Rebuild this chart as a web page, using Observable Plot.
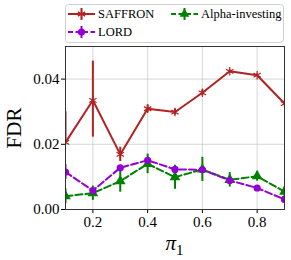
<!DOCTYPE html>
<html><head><meta charset="utf-8">
<script src="https://cdn.jsdelivr.net/npm/d3@7"></script>
<script src="https://cdn.jsdelivr.net/npm/@observablehq/plot@0.6"></script>
<style>body{margin:0;background:#fff}#c{position:relative;width:291px;height:260px}</style>
</head><body><div id="c"></div>
<script>
const pi1 = [0.1,0.2,0.3,0.4,0.5,0.6,0.7,0.8,0.9];
const saffron = [0.0206,0.0335,0.0169,0.0309,0.0299,0.0358,0.0424,0.0412,0.0325];
const saffronErrLo = [0.0,0.0113,0.0022,0.0012,0.0009,0.0009,0.0004,0.0004,0.0007];
const saffronErrHi = [0.0094,0.012,0.0022,0.0012,0.0009,0.0009,0.0004,0.0004,0.0007];
const lord = [0.0115,0.0058,0.0128,0.0151,0.0123,0.0122,0.0089,0.0066,0.0031];
const lordErr = [0.0023,0.0006,0.0006,0.0006,0.0005,0.0005,0.0005,0.0004,0.0004];
const alpha = [0.0041,0.0050,0.0087,0.0140,0.0099,0.0123,0.0091,0.0102,0.0055];
const alphaErr = [0.0023,0.0022,0.0034,0.0030,0.0037,0.0037,0.0022,0.0015,0.0015];
const series = ["SAFFRON","LORD","Alpha-investing"];
const colors = ["#b22222","#9400d3","#008000"];
const xTicks = [0.2,0.4,0.6,0.8];
const yTicks = [0,0.02,0.04];

const mk = (vals, lo, hi, name) => pi1.map((x,i)=>({x, y:vals[i], lo:vals[i]-lo[i], hi:vals[i]+hi[i], s:name}));
const dS = mk(saffron,saffronErrLo,saffronErrHi,"SAFFRON");
const dL = mk(lord,lordErr,lordErr,"LORD");
const dA = mk(alpha,alphaErr,alphaErr,"Alpha-investing");
const font = "'Liberation Serif', 'DejaVu Serif', serif";

const plot = Plot.plot({
  width:291, height:260,
  marginLeft:65, marginRight:7, marginTop:46, marginBottom:51,
  style:{fontFamily:font, fontSize:"15px", color:"#000", background:"#fff"},
  x:{domain:[0.1,0.9], label:null},
  y:{domain:[0,0.05], label:null},
  marks:[
    Plot.gridX(xTicks,{stroke:"#b0b0b0", strokeOpacity:0.5, strokeWidth:1}),
    Plot.gridY(yTicks,{stroke:"#b0b0b0", strokeOpacity:0.5, strokeWidth:1}),
    Plot.axisX({ticks:xTicks, tickFormat:d3.format(".1f"), tickSize:4, fontSize:15, tickPadding:3, label:null}),
    Plot.axisY({ticks:yTicks, tickFormat:d3.format(".2f"), tickSize:4, fontSize:15, tickPadding:2, label:null}),
    // SAFFRON
    Plot.ruleX(dS,{x:"x", y1:"lo", y2:"hi", stroke:colors[0], strokeWidth:2, clip:true}),
    Plot.line(dS,{x:"x", y:"y", stroke:colors[0], strokeWidth:2, clip:true}),
    Plot.dot(dS,{x:"x", y:"y", symbol:"asterisk", stroke:colors[0], r:4, strokeWidth:1.2, clip:true}),
    // Alpha-investing
    Plot.ruleX(dA,{x:"x", y1:"lo", y2:"hi", stroke:colors[2], strokeWidth:2, clip:true}),
    Plot.line(dA,{x:"x", y:"y", stroke:colors[2], strokeWidth:2, strokeDasharray:"7,3", clip:true}),
    Plot.dot(dA,{x:"x", y:"y", symbol:"triangle", fill:colors[2], r:4, clip:true}),
    // LORD
    Plot.ruleX(dL,{x:"x", y1:"lo", y2:"hi", stroke:colors[1], strokeWidth:2, clip:true}),
    Plot.line(dL,{x:"x", y:"y", stroke:colors[1], strokeWidth:2, strokeDasharray:"7,3", clip:true}),
    Plot.dot(dL,{x:"x", y:"y", symbol:"circle", fill:colors[1], r:3.6, clip:true}),
    Plot.frame({stroke:"#333", strokeWidth:1})
  ]
});
document.getElementById("c").appendChild(plot);

const svg = d3.select(plot);
// axis labels
svg.append("text").attr("transform","translate(16,128) rotate(-90)").attr("text-anchor","middle")
  .attr("dominant-baseline","middle").attr("fill","#000").style("font-family",font).style("font-size","21px").text("FDR");
const xl = svg.append("text").attr("x",174.5).attr("y",250).attr("text-anchor","middle").attr("fill","#000")
  .style("font-family",font).style("font-size","21px");
xl.append("tspan").style("font-style","italic").text("π");
xl.append("tspan").attr("dy",5).style("font-size","15px").text("1");

// legend
const lg = svg.append("g").attr("text-anchor","start");
lg.append("rect").attr("x",65.5).attr("y",4.5).attr("width",218).attr("height",38).attr("rx",3)
  .attr("fill","#fff").attr("stroke","#d0d0d0").attr("stroke-width",1);
const items = [
  {name:"SAFFRON", x:68, y:14, c:colors[0], dash:null, sym:d3.symbolAsterisk},
  {name:"Alpha-investing", x:171, y:14, c:colors[2], dash:"5,2.5", sym:d3.symbolTriangle},
  {name:"LORD", x:68, y:32, c:colors[1], dash:"5,2.5", sym:d3.symbolCircle}
];
for (const it of items) {
  lg.append("line").attr("x1",it.x).attr("x2",it.x+27).attr("y1",it.y).attr("y2",it.y)
    .attr("stroke",it.c).attr("stroke-width",2).attr("stroke-dasharray",it.dash);
  lg.append("line").attr("x1",it.x+13.5).attr("x2",it.x+13.5).attr("y1",it.y-6).attr("y2",it.y+6)
    .attr("stroke",it.c).attr("stroke-width",2);
  const p = lg.append("path").attr("transform",`translate(${it.x+13.5},${it.y})`)
    .attr("d",d3.symbol(it.sym, it.sym===d3.symbolAsterisk?50:40)());
  if (it.sym===d3.symbolAsterisk) p.attr("fill","none").attr("stroke",it.c).attr("stroke-width",1.2);
  else p.attr("fill",it.c);
  lg.append("text").attr("x",it.x+30).attr("y",it.y).attr("dy","0.35em").attr("text-anchor","start")
    .attr("fill","#000").style("font-family",font).style("font-size","12.5px").text(it.name);
}
</script></body></html>
